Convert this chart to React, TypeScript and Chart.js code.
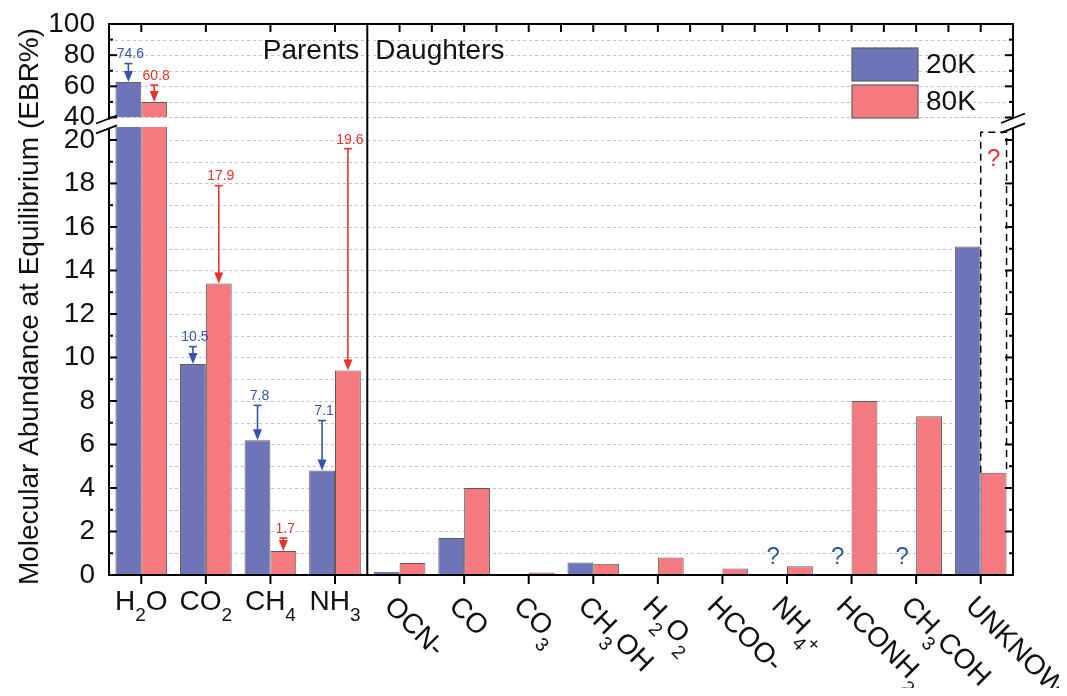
import React, { useEffect, useRef } from 'react';
import { Chart, registerables } from 'chart.js';

Chart.register(...registerables);

const FONT = '"Liberation Sans", Arial, Helvetica, sans-serif';

// ---------- data ----------
const categories = ['H_2O', 'CO_2', 'CH_4', 'NH_3', 'OCN-', 'CO', 'CO_3', 'CH_3OH', 'H_2O_2', 'HCOO-', 'NH_4^+', 'HCONH_2', 'CH_3COH', 'UNKNOWN'];
const PARENT_COUNT = 4;
const seriesNames = ['20K', '80K'];
const yTitle = 'Molecular Abundance at Equilibrium (EBR%)';
const abundance20K: (number | null)[] = [62.7, 9.7, 6.2, 4.8, 0.15, 1.7, null, 0.58, null, null, null, null, null, 15.1];
const abundance80K: (number | null)[] = [50.0, 13.4, 1.1, 9.4, 0.55, 4.0, 0.12, 0.52, 0.8, 0.3, 0.4, 8.0, 7.3, 4.7];
const initial20K: (number | null)[] = [74.6, 10.5, 7.8, 7.1, null, null, null, null, null, null, null, null, null, null];
const initial80K: (number | null)[] = [60.8, 17.9, 1.7, 19.6, null, null, null, null, null, null, null, null, null, null];
const unknown20K: boolean[] = [false, false, false, false, false, false, false, false, false, false, true, true, true, false];
const uncertainTop80K: (number | null)[] = [null, null, null, null, null, null, null, null, null, null, null, null, null, 20.35];
const lowerTicks = [0, 1, 2, 3, 4, 5, 6, 7, 8, 9, 10, 11, 12, 13, 14, 15, 16, 17, 18, 19, 20];
const upperTicks = [40, 50, 60, 70, 80, 90, 100];

// ---------- layout / style constants ----------
const W = 1051;
const H = 680;
const PLOT_H = 551;
const BREAK_LOW = 20.6;
const BREAK_HIGH = 40;
const LOWER_MAX = 25.33;
const UPPER_MIN = -253.6;
const UPPER_MAX = 100;

const BLUE = '#6e74b8';
const RED = '#f47a80';
const EDGE = '#5c5c5c';
const BLUE_DARK = '#3553ad';
const RED_DARK = '#e8322f';
const INK = '#111111';

const lowerClip = { left: 0, right: 0, bottom: 0, top: -PLOT_H * (LOWER_MAX - BREAK_LOW) / LOWER_MAX };
const upperClip = { left: 0, right: 0, top: 0, bottom: -PLOT_H * (BREAK_HIGH - UPPER_MIN) / (UPPER_MAX - UPPER_MIN) };

type Part = { t: string; k: 'n' | 'sub' | 'sup' };
function parseLabel(s: string): Part[] {
  const parts: Part[] = [];
  for (let i = 0; i < s.length; i++) {
    const c = s[i];
    if (c === '_' || c === '^') {
      parts.push({ t: s[i + 1], k: c === '_' ? 'sub' : 'sup' });
      i++;
    } else {
      const last = parts[parts.length - 1];
      if (last && last.k === 'n') last.t += c;
      else parts.push({ t: c, k: 'n' });
    }
  }
  return parts;
}

function drawRich(ctx: CanvasRenderingContext2D, s: string, x: number, y: number, align: 'center' | 'left') {
  const parts = parseLabel(s);
  const fontFor = (k: string) => (k === 'n' ? `28px ${FONT}` : `19px ${FONT}`);
  const dy = (k: string) => (k === 'sub' ? 14 : k === 'sup' ? 4 : 0);
  let total = 0;
  const widths = parts.map((p) => {
    ctx.font = fontFor(p.k);
    const w = ctx.measureText(p.t).width;
    total += w;
    return w;
  });
  let cx = align === 'center' ? x - total / 2 : x;
  ctx.textAlign = 'left';
  ctx.textBaseline = 'middle';
  parts.forEach((p, i) => {
    ctx.font = fontFor(p.k);
    ctx.fillText(p.t, cx, y + dy(p.k));
    cx += widths[i];
  });
}

const brokenAxisPlugin = {
  id: 'brokenAxis',
  beforeDatasetsDraw(chart: any) {
    const { ctx, chartArea: a, scales } = chart;
    const y = scales.y;
    const y2 = scales.y2;
    ctx.save();
    ctx.strokeStyle = '#c4c4c4';
    ctx.lineWidth = 1;
    ctx.setLineDash([3, 3]);
    const hline = (py: number) => {
      const yy = Math.round(py) + 0.5;
      ctx.beginPath();
      ctx.moveTo(a.left, yy);
      ctx.lineTo(a.right, yy);
      ctx.stroke();
    };
    lowerTicks.forEach((v) => { if (v > 0) hline(y.getPixelForValue(v)); });
    upperTicks.forEach((v) => { if (v < UPPER_MAX) hline(y2.getPixelForValue(v)); });
    ctx.setLineDash([]);
    const meta80 = chart.getDatasetMeta(1);
    uncertainTop80K.forEach((top, i) => {
      if (top == null) return;
      const el = meta80.data[i];
      const yTop = y.getPixelForValue(top);
      ctx.fillStyle = '#ffffff';
      ctx.fillRect(el.x - el.width / 2, yTop, el.width, el.y - yTop);
    });
    ctx.restore();
  },
  afterDraw(chart: any) {
    const { ctx, chartArea: a, scales } = chart;
    const x = scales.x;
    const y = scales.y;
    const y2 = scales.y2;
    const L = a.left, R = a.right, T = a.top, B = a.bottom;
    const yHi = y2.getPixelForValue(BREAK_HIGH);
    const yLo = y.getPixelForValue(BREAK_LOW);
    ctx.save();
    const seg = (x1: number, y1: number, x2: number, y2_: number) => {
      ctx.beginPath();
      ctx.moveTo(x1, y1);
      ctx.lineTo(x2, y2_);
      ctx.stroke();
    };

    // y-axis title
    ctx.save();
    ctx.translate(22, (T + B) / 2 + 7);
    ctx.rotate(-Math.PI / 2);
    ctx.fillStyle = INK;
    ctx.font = `28px ${FONT}`;
    ctx.textAlign = 'center';
    ctx.textBaseline = 'middle';
    ctx.fillText(yTitle, 0, 0);
    ctx.restore();

    // uncertain dashed box
    const meta80 = chart.getDatasetMeta(1);
    uncertainTop80K.forEach((top, i) => {
      if (top == null) return;
      const el = meta80.data[i];
      const yTop = y.getPixelForValue(top);
      const xl = el.x - el.width / 2, xr = el.x + el.width / 2;
      ctx.strokeStyle = '#000';
      ctx.lineWidth = 1.5;
      ctx.setLineDash([7, 5]);
      ctx.beginPath();
      ctx.moveTo(xl, el.y);
      ctx.lineTo(xl, yTop);
      ctx.lineTo(xr, yTop);
      ctx.lineTo(xr, el.y);
      ctx.stroke();
      ctx.setLineDash([]);
      ctx.fillStyle = RED_DARK;
      ctx.font = `24px ${FONT}`;
      ctx.textAlign = 'center';
      ctx.textBaseline = 'middle';
      ctx.fillText('?', el.x, y.getPixelForValue(19.1));
    });

    // frame
    ctx.strokeStyle = '#000';
    ctx.lineWidth = 2;
    seg(L - 1, T, R + 1, T);
    seg(L - 1, B, R + 1, B);
    seg(L, T, L, yHi + 2);
    seg(L, yLo + 2, L, B);
    seg(R, T, R, yHi + 1);
    seg(R, yLo + 1, R, B);
    ctx.lineWidth = 1.8;
    seg(L - 13, yHi + 6, L + 8, yHi - 2);
    seg(L - 13, yLo + 6.5, L + 8, yLo - 1.5);
    seg(R - 12, yHi + 5.5, R + 12, yHi - 4);
    seg(R - 12, yLo + 6, R + 12, yLo - 3.5);

    // divider
    ctx.lineWidth = 2;
    const xDiv = (x.getPixelForValue(PARENT_COUNT - 1) + x.getPixelForValue(PARENT_COUNT)) / 2;
    seg(xDiv, T, xDiv, B);

    // y ticks (inward, both sides)
    const tickY = (py: number, major: boolean) => {
      const len = major ? 8 : 4;
      seg(L, py, L + len, py);
      seg(R, py, R - len, py);
    };
    lowerTicks.forEach((v) => { if (v > 0) tickY(y.getPixelForValue(v), v % 2 === 0); });
    upperTicks.forEach((v) => { if (v < UPPER_MAX) tickY(y2.getPixelForValue(v), v % 20 === 0); });

    // x ticks
    categories.forEach((_, i) => {
      const px = x.getPixelForValue(i);
      seg(px, T, px, T + 8);
      seg(px, B, px, B + 9);
      if (i >= PARENT_COUNT && i < categories.length - 1) {
        const mid = (px + x.getPixelForValue(i + 1)) / 2;
        seg(mid, T, mid, T + 8);
      }
    });

    // upper y labels
    ctx.fillStyle = INK;
    ctx.font = `28px ${FONT}`;
    ctx.textAlign = 'right';
    ctx.textBaseline = 'middle';
    upperTicks.forEach((v) => {
      if (v % 20 === 0) ctx.fillText(String(v), L - 14, y2.getPixelForValue(v));
    });

    // x labels
    ctx.fillStyle = INK;
    categories.forEach((c, i) => {
      const px = x.getPixelForValue(i);
      if (i < PARENT_COUNT) {
        drawRich(ctx, c, px, B + 27, 'center');
      } else {
        ctx.save();
        ctx.translate(px - 11, B + 27);
        ctx.rotate(Math.PI / 4);
        drawRich(ctx, c, 0, 0, 'left');
        ctx.restore();
      }
    });

    // section titles
    ctx.fillStyle = INK;
    ctx.font = `28px ${FONT}`;
    ctx.textBaseline = 'middle';
    ctx.textAlign = 'right';
    ctx.fillText('Parents', xDiv - 8, T + 27);
    ctx.textAlign = 'left';
    ctx.fillText('Daughters', xDiv + 8, T + 27);

    // legend
    const ds = chart.data.datasets;
    [0, 1].forEach((k) => {
      const by = T + 24 + k * 37;
      ctx.fillStyle = ds[k].backgroundColor;
      ctx.fillRect(R - 161, by, 66, 33);
      ctx.strokeStyle = EDGE;
      ctx.lineWidth = 1.2;
      ctx.strokeRect(R - 161, by, 66, 33);
      ctx.fillStyle = INK;
      ctx.font = `28px ${FONT}`;
      ctx.textAlign = 'left';
      ctx.fillText(seriesNames[k], R - 87, by + 17);
    });

    // arrows from initial to equilibrium values
    const drawArrow = (px: number, yCap: number, yBar: number, color: string, label: string) => {
      ctx.strokeStyle = color;
      ctx.fillStyle = color;
      ctx.lineWidth = 1.6;
      seg(px - 4, yCap, px + 4, yCap);
      seg(px, yCap, px, yBar - 8);
      ctx.beginPath();
      ctx.moveTo(px - 4.5, yBar - 11);
      ctx.lineTo(px + 4.5, yBar - 11);
      ctx.lineTo(px, yBar);
      ctx.closePath();
      ctx.fill();
      ctx.font = `14px ${FONT}`;
      ctx.textAlign = 'center';
      ctx.textBaseline = 'middle';
      ctx.fillText(label, px + 2, yCap - 9);
    };
    const arrowSets = [
      { vals: abundance20K, init: initial20K, color: BLUE_DARK, lower: 0, upper: 2 },
      { vals: abundance80K, init: initial80K, color: RED_DARK, lower: 1, upper: 3 },
    ];
    arrowSets.forEach((s) => {
      s.init.forEach((iv, i) => {
        const v = s.vals[i];
        if (iv == null || v == null) return;
        const useUpper = v > BREAK_LOW;
        const meta = chart.getDatasetMeta(useUpper ? s.upper : s.lower);
        const sc = useUpper ? y2 : y;
        const el = meta.data[i];
        drawArrow(el.x, sc.getPixelForValue(iv), sc.getPixelForValue(v), s.color, iv.toFixed(1));
      });
    });

    // unknown 20K values
    const meta20 = chart.getDatasetMeta(0);
    ctx.fillStyle = BLUE_DARK;
    ctx.font = `24px ${FONT}`;
    ctx.textAlign = 'center';
    ctx.textBaseline = 'middle';
    unknown20K.forEach((u, i) => {
      if (u) ctx.fillText('?', meta20.data[i].x - 1, y.getPixelForValue(0.8));
    });

    ctx.restore();
  },
};

export default function App() {
  const ref = useRef<HTMLCanvasElement>(null);
  useEffect(() => {
    if (!ref.current) return;
    const common = { borderColor: EDGE, borderWidth: 1, categoryPercentage: 0.8, barPercentage: 1.0 };
    const zeroPad = (s: any) => { s.paddingTop = 0; s.paddingBottom = 0; s.paddingLeft = 0; s.paddingRight = 0; };
    const chart = new Chart(ref.current, {
      type: 'bar',
      data: {
        labels: categories,
        datasets: [
          { ...common, label: seriesNames[0], data: abundance20K, backgroundColor: BLUE, yAxisID: 'y', stack: 'a', clip: lowerClip },
          { ...common, label: seriesNames[1], data: abundance80K, backgroundColor: RED, yAxisID: 'y', stack: 'b', clip: lowerClip },
          { ...common, label: seriesNames[0], data: abundance20K, backgroundColor: BLUE, yAxisID: 'y2', stack: 'a', base: BREAK_HIGH, clip: upperClip },
          { ...common, label: seriesNames[1], data: abundance80K, backgroundColor: RED, yAxisID: 'y2', stack: 'b', base: BREAK_HIGH, clip: upperClip },
        ] as any,
      },
      options: {
        responsive: false,
        animation: false,
        events: [],
        layout: { autoPadding: false, padding: { top: 16, right: 46, bottom: 113, left: 0 } },
        plugins: { legend: { display: false }, tooltip: { enabled: false } },
        scales: {
          x: { type: 'category', display: false, offset: true, grid: { display: false }, afterFit: zeroPad },
          y: {
            type: 'linear',
            position: 'left',
            min: 0,
            max: LOWER_MAX,
            stacked: false,
            afterBuildTicks: (s: any) => { s.ticks = lowerTicks.map((v) => ({ value: v })); },
            afterFit: (s: any) => { s.width = 101; zeroPad(s); },
            grid: { display: false, drawTicks: false },
            border: { display: false },
            ticks: {
              autoSkip: false,
              padding: 14,
              color: INK,
              font: { size: 28, family: FONT },
              callback: (v: any) => (Number(v) % 2 === 0 ? String(v) : ''),
            },
            title: { display: false },
          },
          y2: { type: 'linear', position: 'left', display: false, min: UPPER_MIN, max: UPPER_MAX, stacked: false, afterFit: zeroPad },
        },
      } as any,
      plugins: [brokenAxisPlugin],
    });
    return () => chart.destroy();
  }, []);
  return <canvas ref={ref} width={W} height={H} style={{ display: 'block', width: W, height: H }} />;
}
